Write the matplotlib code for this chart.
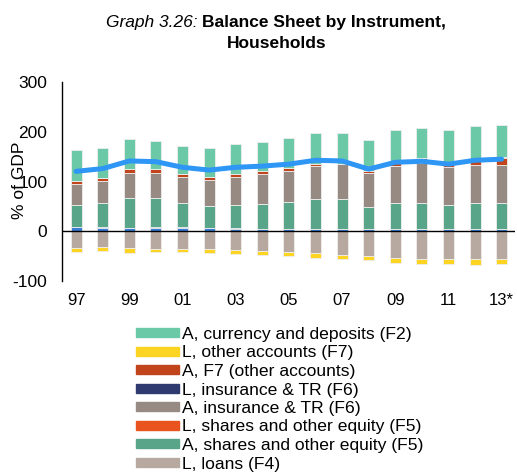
import matplotlib
matplotlib.use("Agg")
import matplotlib.pyplot as plt
from matplotlib.patches import Patch
import numpy as np

plt.rcParams['font.family'] = ['Liberation Sans', 'DejaVu Sans']

years = ['97', '98', '99', '00', '01', '02', '03', '04', '05', '06', '07', '08', '09', '10', '11', '12', '13*']
tick_labels = ['97', '', '99', '', '01', '', '03', '', '05', '', '07', '', '09', '', '11', '', '13*']

a_other = [7.5, 6.5, 6.0, 6.8, 6.8, 5.4, 4.9, 4.2, 4.2, 4.2, 4.0, 4.0, 4.2, 4.0, 4.0, 4.0, 4.0]
l_ins = [1.3, 1.5, 0.7, 0.6, 0.6, 0.6, 0.5, 0.5, 0.5, 0.5, 0.5, 0.5, 0.5, 0.5, 0.5, 0.5, 0.5]
a_shares = [43.7, 48.6, 60.0, 59.3, 49.2, 43.8, 47.1, 49.8, 53.3, 59.9, 60.1, 44.0, 51.3, 51.5, 47.5, 51.5, 51.5]
a_ins = [43.1, 45.1, 49.8, 51.1, 53.2, 53.9, 56.5, 60.0, 63.0, 66.4, 70.1, 69.3, 76.0, 81.0, 78.0, 78.0, 78.0]
a_f7 = [6.4, 6.0, 8.1, 6.8, 4.7, 6.1, 6.8, 6.0, 7.0, 4.0, 1.5, 4.2, 9.0, 10.5, 10.0, 12.0, 14.0]
l_shares = [0, 0, 0, 0, 0, 0, 0, 0, 0, 0, 0, 0, 0, 0, 0, 0, 2.0]
a_cur = [61.0, 60.3, 61.4, 57.9, 56.5, 57.9, 59.2, 58.5, 59.0, 62.0, 62.4, 61.0, 62.0, 61.2, 64.0, 65.0, 64.0]
l_loans = [-33.7, -33.0, -35.0, -35.7, -35.7, -36.4, -37.7, -39.7, -41.8, -44.4, -47.8, -50.0, -54.0, -56.0, -56.0, -56.6, -56.6]
l_oth = [-8.1, -8.0, -8.8, -6.7, -7.3, -8.6, -8.8, -8.8, -9.2, -9.6, -9.2, -8.6, -10.0, -11.3, -11.3, -11.4, -10.7]
net = [120.5, 126.0, 141.4, 140.0, 128.6, 123.0, 128.6, 131.0, 135.0, 142.8, 141.4, 125.0, 138.7, 140.7, 135.0, 142.8, 145.0]

colors = {
    'cur': '#6CC9A8',
    'loth': '#FDD421',
    'af7': '#C1441A',
    'lins': '#2F3A70',
    'ains': '#968A83',
    'lsh': '#E9531E',
    'ash': '#58A58A',
    'lloan': '#B8A9A0',
    'aoth': '#3A7DD6',
    'net': '#2E96F5',
}

fig = plt.figure(figsize=(5.17, 4.73), dpi=100)
W, H = 517, 473
ax = fig.add_axes([62 / W, 1 - 280.7 / H, 453 / W, (280.7 - 82.3) / H])

x = np.arange(len(years))
bw = 0.42
ec = '#eeeeee'
lw = 0.6

bottom = np.zeros(len(years))
for vals, key in [(a_other, 'aoth'), (l_ins, 'lins'), (a_shares, 'ash'), (a_ins, 'ains'),
                  (a_f7, 'af7'), (l_shares, 'lsh'), (a_cur, 'cur')]:
    v = np.array(vals)
    ax.bar(x, v, bw, bottom=bottom, color=colors[key], edgecolor=ec, linewidth=lw, zorder=2)
    bottom += v

nb = np.zeros(len(years))
for vals, key in [(l_loans, 'lloan'), (l_oth, 'loth')]:
    v = np.array(vals)
    ax.bar(x, v, bw, bottom=nb, color=colors[key], edgecolor=ec, linewidth=lw, zorder=2)
    nb += v

ax.plot(x, net, color=colors['net'], linewidth=3.6, zorder=4, solid_capstyle='round')

ax.axhline(0, color='black', linewidth=1.0, zorder=3)
ax.set_xlim(-0.53, 16.5)
ax.set_ylim(-100, 300)
ax.set_yticks([-100, 0, 100, 200, 300])
ax.set_yticklabels(['-100', '0', '100', '200', '300'], fontsize=12.5)
ax.set_xticks(x)
ax.set_xticklabels(tick_labels, fontsize=12)
ax.tick_params(axis='both', length=0)
ax.tick_params(axis='x', pad=9)
ax.tick_params(axis='y', pad=10.5)
for s in ['top', 'right', 'bottom']:
    ax.spines[s].set_visible(False)
ax.spines['left'].set_linewidth(1.0)

fig.text(20 / W, 1 - 180 / H, '% of GDP', rotation=90, fontsize=12.5, ha='center', va='center')

fig.text(198 / W, 1 - 22 / H, 'Graph 3.26:', fontsize=12.5, style='italic', ha='right', va='center')
fig.text(202 / W, 1 - 22 / H, 'Balance Sheet by Instrument,', fontsize=12.5, weight='bold', ha='left', va='center')
fig.text(277 / W, 1 - 44 / H, 'Households', fontsize=12.5, weight='bold', ha='center', va='center')

handles = [
    Patch(color=colors['cur'], label='A, currency and deposits (F2)'),
    Patch(color=colors['loth'], label='L, other accounts (F7)'),
    Patch(color=colors['af7'], label='A, F7 (other accounts)'),
    Patch(color=colors['lins'], label='L, insurance & TR (F6)'),
    Patch(color=colors['ains'], label='A, insurance & TR (F6)'),
    Patch(color=colors['lsh'], label='L, shares and other equity (F5)'),
    Patch(color=colors['ash'], label='A, shares and other equity (F5)'),
    Patch(color=colors['lloan'], label='L, loans (F4)'),
]
fig.legend(handles=handles, loc='upper left', bbox_to_anchor=(136 / W, 1 - 327 / H),
           frameon=False, fontsize=12.6, handlelength=2.45, handleheight=0.4,
           handletextpad=0.2, labelspacing=0.2, borderpad=0, borderaxespad=0)

fig.savefig('out.png', dpi=100)
